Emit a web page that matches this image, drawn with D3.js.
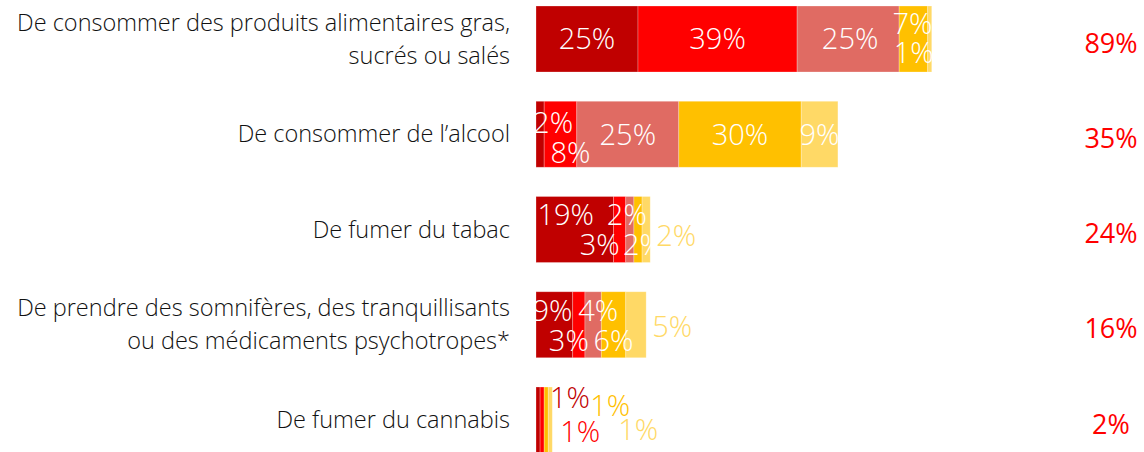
<!DOCTYPE html>
<html>
<head>
<meta charset="utf-8">
<script src="https://cdn.jsdelivr.net/npm/d3@7"></script>
<style>
  html, body { margin: 0; padding: 0; background: #fff; }
  svg { display: block; }
</style>
</head>
<body>
<script>
const width = 1144;
const height = 452;

// Categories (one per bar), lines split like in the source
const categories = [
    ["De consommer des produits alimentaires gras,", "sucrés ou salés"],
    ["De consommer de l\u2019alcool"],
    ["De fumer du tabac"],
    ["De prendre des somnifères, des tranquillisants", "ou des médicaments psychotropes*"],
    ["De fumer du cannabis"]
];

// Stacked series values (%), in bar order
const serie1 = [25, 2, 19, 9, 1];
const serie2 = [39, 8, 3, 3, 1];
const serie3 = [25, 25, 2, 4, 0];
const serie4 = [7, 30, 2, 6, 1];
const serie5 = [1, 9, 2, 5, 1];

// Totals shown on the right
const totals = [89, 35, 24, 16, 2];

const seriesColors = ["#C00000", "#FF0000", "#E06B63", "#FFC000", "#FFD966"];

// Label placement per bar and per segment: [mode, dx, dy]
// mode "in" = white label on the segment, "out" = coloured label next to it
const labelLayout = [
    [["in", 0, 0], ["in", 0, 0], ["in", 2, 0], ["in", -1, -15], ["in", -16, 14]],
    [["in", 13, -12], ["in", 10, 18], ["in", 0, 0], ["in", 0, 0], ["in", 0, 0]],
    [["in", -9, -15], ["in", -20, 15], ["in", -3, -15], ["in", 5, 15], ["out", 26, 6]],
    [["in", -2, -14], ["in", -10, 16], ["in", 5, -14], ["in", 0, 16], ["out", 26, 2]],
    [["out", 32, -22], ["out", 38, 12], ["out", 0, 0], ["out", 64, -14], ["out", 88, 10]]
];

const allSeries = [serie1, serie2, serie3, serie4, serie5];
const keys = ["s1", "s2", "s3", "s4", "s5"];

// Build table for d3.stack
const table = categories.map((c, i) => {
    const row = { idx: i };
    keys.forEach((k, j) => { row[k] = allSeries[j][i]; });
    return row;
});
const stacked = d3.stack().keys(keys)(table);

const svg = d3.select("body").append("svg")
    .attr("width", width)
    .attr("height", height);

const x = d3.scaleLinear().domain([0, 100]).range([536, 944]);
const y = d3.scalePoint().domain(d3.range(categories.length)).range([39, 420]);
const barH = 66;

const color = d3.scaleOrdinal().domain(keys).range(seriesColors);

// Bars
const layers = svg.append("g").attr("class", "bars")
    .selectAll("g")
    .data(stacked)
    .join("g")
    .attr("fill", d => color(d.key));

layers.selectAll("rect")
    .data(d => d)
    .join("rect")
    .attr("x", d => x(d[0]))
    .attr("y", d => y(d.data.idx) - barH / 2)
    .attr("width", d => x(d[1]) - x(d[0]))
    .attr("height", barH)
    .attr("stroke", "#fff")
    .attr("stroke-opacity", 0.35)
    .attr("stroke-width", 0.75);

// Segment labels
const labelFont = "'Open Sans', 'Noto Sans', sans-serif";
stacked.forEach((layer, j) => {
    layer.forEach(d => {
        const v = d[1] - d[0];
        if (v <= 0) return;
        const i = d.data.idx;
        const [mode, dx, dy] = labelLayout[i][j];
        const cx = mode === "out" && i !== 4
            ? x(d[1]) + dx
            : (x(d[0]) + x(d[1])) / 2 + dx;
        svg.append("text")
            .attr("x", cx)
            .attr("y", y(i) + dy)
            .attr("dy", "0.36em")
            .attr("text-anchor", "middle")
            .style("font-family", labelFont)
            .style("font-weight", 300)
            .style("font-size", "29px")
            .style("fill", mode === "in" ? "#fff" : seriesColors[j])
            .text(v + "%");
    });
});

// Category labels
const catGroup = svg.append("g").attr("class", "categories");
categories.forEach((lines, i) => {
    const lineH = 33;
    const t = catGroup.append("text")
        .attr("text-anchor", "end")
        .style("font-family", labelFont)
        .style("font-weight", 300)
        .style("font-size", "23.5px")
        .style("fill", "#111");
    lines.forEach((ln, k) => {
        t.append("tspan")
            .attr("x", 510)
            .attr("y", y(i) + (k - (lines.length - 1) / 2) * lineH)
            .attr("dy", "0.35em")
            .text(ln);
    });
});

// Totals on the right
svg.append("g").attr("class", "totals")
    .selectAll("text")
    .data(totals)
    .join("text")
    .attr("x", 1111)
    .attr("y", (d, i) => y(i) + 4)
    .attr("dy", "0.36em")
    .attr("text-anchor", "middle")
    .style("font-family", labelFont)
    .style("font-size", "27px")
    .style("fill", "#FF0000")
    .text(d => d + "%");
</script>
</body>
</html>
